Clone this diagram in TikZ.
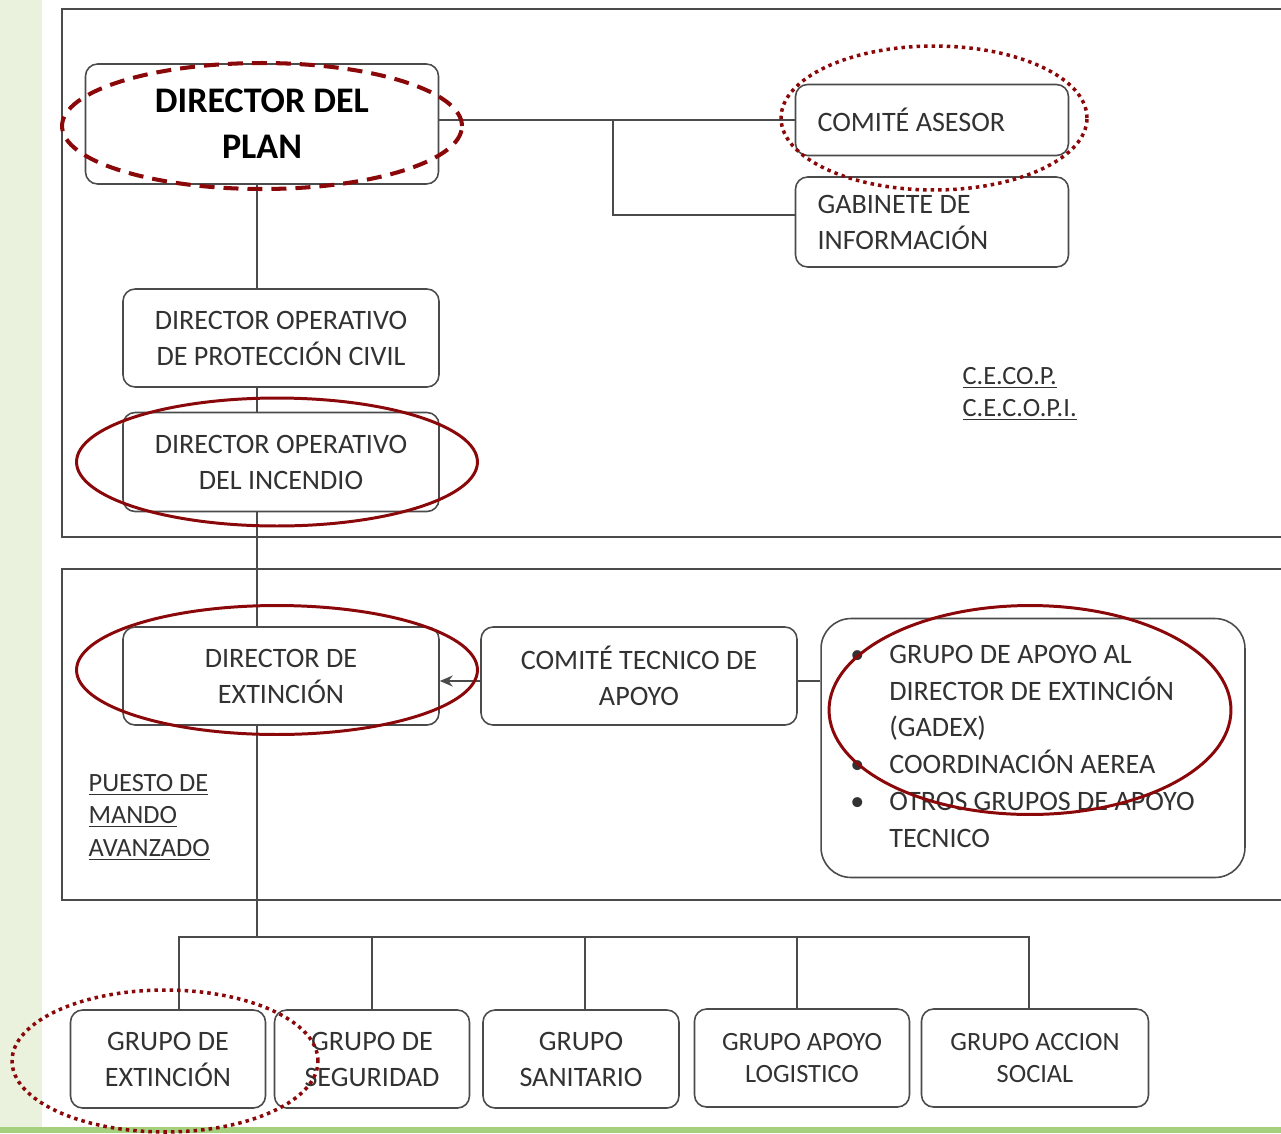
\documentclass[tikz,border=0pt]{standalone}
\usepackage{fontspec}
\setmainfont{Carlito}
\usepackage{tikz}
\usetikzlibrary{arrows.meta}

\definecolor{circred}{RGB}{139,8,10}
\definecolor{textgray}{RGB}{50,50,50}
\definecolor{linegray}{RGB}{75,75,75}
\definecolor{leafgreen}{RGB}{234,241,221}
\definecolor{grassgreen}{RGB}{165,208,125}

\begin{document}
\begin{tikzpicture}[x=0.02cm,y=-0.02cm,>={Stealth[length=2.6mm,width=2.2mm]},line width=0.9pt]
  \tikzstyle{every node}=[font=\fontsize{16}{20.5}\selectfont]
  \tikzstyle{box}=[draw=linegray,fill=white,rounded corners=0.24cm,text=textgray,align=center,inner sep=2pt]
  \tikzstyle{lbox}=[box,align=flush left,text width=4.58cm]
  \tikzstyle{small}=[font=\fontsize{15}{18.5}\selectfont]
  \tikzstyle{ring}=[draw=circred,line width=1.7pt]
  \tikzstyle{dots}=[draw=circred,line width=2pt,dash pattern=on 2pt off 2.3pt]

  \useasboundingbox (0,0) rectangle (1281,1133);
  % page background
  \fill[leafgreen] (0,0) rectangle (42,1133);
  \fill[grassgreen] (0,1127) rectangle (1281,1133);

  % the two frames
  \draw[linegray] (62,9) rectangle (1295,537);
  \draw[linegray] (62,569) rectangle (1295,900);

  \coordinate (T) at (257,0);
  \coordinate (K) at (613,0);
  \coordinate (bus) at (257,937);

  \node[box,minimum width=7.06cm,minimum height=2.4cm,text=black,font=\fontsize{20.5}{26}\selectfont\bfseries] (A) at (262,124) {DIRECTOR DEL\\PLAN};
  \node[lbox,minimum width=5.46cm,minimum height=1.42cm] (B) at (932,120) {COMITÉ ASESOR};
  \node[lbox,minimum width=5.46cm,minimum height=1.8cm]  (C) at (932,222) {GABINETE DE\\INFORMACIÓN};
  \node[box,minimum width=6.32cm,minimum height=1.96cm] (D) at (281,338) {DIRECTOR OPERATIVO\\DE PROTECCIÓN CIVIL};
  \node[box,minimum width=6.32cm,minimum height=1.98cm] (E) at (281,462) {DIRECTOR OPERATIVO\\DEL INCENDIO};
  \node[box,minimum width=6.32cm,minimum height=1.96cm] (F) at (281,676) {DIRECTOR DE\\EXTINCIÓN};
  \node[box,minimum width=6.32cm,minimum height=1.96cm] (G) at (639,676) {COMITÉ TECNICO DE\\APOYO};
  \node[box,rounded corners=0.6cm,minimum width=8.48cm,minimum height=5.18cm,font=\fontsize{16}{21}\selectfont] (H) at (1033,748)
    {\begin{tabular}{@{}l@{\hspace{0.5cm}}l@{\hspace{0.42cm}}}
      \textbullet & GRUPO DE APOYO AL\\
                  & DIRECTOR DE EXTINCIÓN\\
                  & (GADEX)\\
      \textbullet & COORDINACIÓN AEREA\\
      \textbullet & OTROS GRUPOS DE APOYO\\
                  & TECNICO
    \end{tabular}};

  \node[box,minimum width=3.9cm,minimum height=1.96cm]  (I) at (168,1059) {GRUPO DE\\EXTINCIÓN};
  \node[box,minimum width=3.9cm,minimum height=1.96cm]  (J) at (372,1059) {GRUPO DE\\SEGURIDAD};
  \node[box,minimum width=3.92cm,minimum height=1.96cm] (L) at (581,1059) {GRUPO\\SANITARIO};
  \node[box,small,minimum width=4.3cm,minimum height=1.96cm]  (M) at (802,1058) {GRUPO APOYO\\LOGISTICO};
  \node[box,small,minimum width=4.54cm,minimum height=1.96cm] (N) at (1035,1058) {GRUPO ACCION\\SOCIAL};

  \node[small,text=textgray,align=left,anchor=west] (P) at (956,394) {\underline{C.E.CO.P.}\\\underline{C.E.C.O.P.I.}};
  \node[small,text=textgray,align=left,anchor=west] (Q) at (82,817) {\underline{PUESTO DE}\\\underline{MANDO}\\\underline{AVANZADO}};

  % connectors
  \draw[linegray] (A.east |- B.west) -- (B.west);
  \draw[linegray] (K |- B.west) |- ([yshift=0.14cm]C.west);
  \draw[linegray] (A.south -| T) -- (D.north -| T);
  \draw[linegray] (D.south -| T) -- (E.north -| T);
  \draw[linegray] (E.south -| T) -- (F.north -| T);
  \draw[linegray] (F.south -| T) -- (bus);
  \draw[->,linegray] ([yshift=-0.1cm]G.west) -- ([yshift=-0.1cm]F.east);
  \draw[linegray] ([yshift=-0.1cm]G.east) -- ([yshift=-0.1cm]G.east -| H.west);
  \draw[linegray] ([xshift=0.22cm]I.north) |- ([xshift=-0.12cm]N.north |- bus) -- ([xshift=-0.12cm]N.north);
  \draw[linegray] (J.north) -- (J.north |- bus);
  \draw[linegray] ([xshift=0.08cm]L.north) -- ([xshift=0.08cm]L.north |- bus);
  \draw[linegray] ([xshift=-0.1cm]M.north) -- ([xshift=-0.1cm]M.north |- bus);

  % marks drawn over the chart
  \draw[circred,line width=2.3pt,dash pattern=on 0.3cm off 0.18cm] (262,126) ellipse [x radius=4cm,y radius=1.26cm];
  \draw[dots] (934,118) ellipse [x radius=3.06cm,y radius=1.44cm];
  \draw[ring] (277,462) ellipse [x radius=4.01cm,y radius=1.28cm];
  \draw[ring] (277,670) ellipse [x radius=4.01cm,y radius=1.29cm];
  \draw[ring] (1030,710) ellipse [x radius=4.02cm,y radius=2.09cm];
  \draw[dots] (165,1061) ellipse [x radius=3.06cm,y radius=1.42cm];
\end{tikzpicture}
\end{document}
